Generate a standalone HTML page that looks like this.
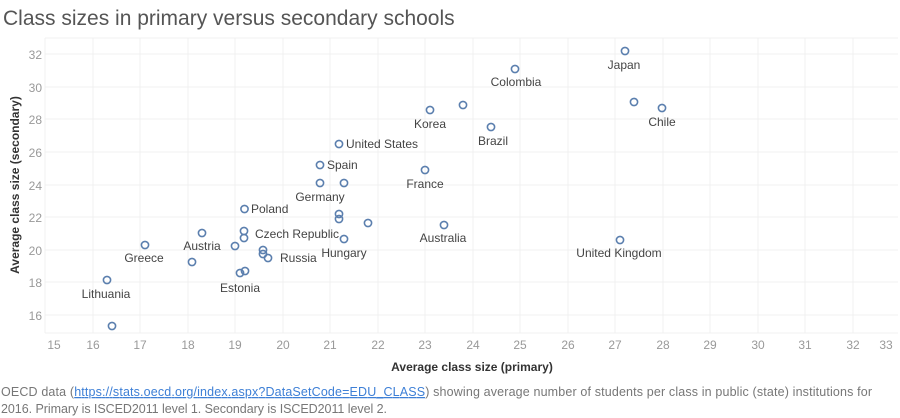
<!DOCTYPE html>
<html><head><meta charset="utf-8"><style>
html,body{margin:0;padding:0;background:#fff;width:900px;height:418px;overflow:hidden}
svg{display:block;font-family:"Liberation Sans",sans-serif}
.t{font-size:12px;fill:#999}
.l{font-size:12px;fill:#444}
.a{font-size:12px;font-weight:bold;fill:#333}
circle{fill:none;stroke:#5b7fae;stroke-width:1.6}
</style></head><body>
<svg width="900" height="418" viewBox="0 0 900 418">
<text x="3" y="25" style="font-size:21px;fill:#555">Class sizes in primary versus secondary schools</text>
<g stroke="#f0f0f0" stroke-width="1">
<line x1="45" y1="38" x2="898" y2="38"/><line x1="45" y1="54" x2="898" y2="54"/><line x1="45" y1="87" x2="898" y2="87"/><line x1="45" y1="119" x2="898" y2="119"/><line x1="45" y1="152" x2="898" y2="152"/><line x1="45" y1="185" x2="898" y2="185"/><line x1="45" y1="217" x2="898" y2="217"/><line x1="45" y1="250" x2="898" y2="250"/><line x1="45" y1="282" x2="898" y2="282"/><line x1="45" y1="315" x2="898" y2="315"/>
<line x1="45" y1="38" x2="45" y2="333"/><line x1="93" y1="38" x2="93" y2="333"/><line x1="140" y1="38" x2="140" y2="333"/><line x1="188" y1="38" x2="188" y2="333"/><line x1="235" y1="38" x2="235" y2="333"/><line x1="283" y1="38" x2="283" y2="333"/><line x1="330" y1="38" x2="330" y2="333"/><line x1="378" y1="38" x2="378" y2="333"/><line x1="425" y1="38" x2="425" y2="333"/><line x1="473" y1="38" x2="473" y2="333"/><line x1="520" y1="38" x2="520" y2="333"/><line x1="568" y1="38" x2="568" y2="333"/><line x1="615" y1="38" x2="615" y2="333"/><line x1="663" y1="38" x2="663" y2="333"/><line x1="710" y1="38" x2="710" y2="333"/><line x1="758" y1="38" x2="758" y2="333"/><line x1="805" y1="38" x2="805" y2="333"/><line x1="853" y1="38" x2="853" y2="333"/>
<line x1="45" y1="333" x2="898" y2="333"/>
</g>
<g class="t" text-anchor="end">
<text x="42" y="59">32</text><text x="42" y="92">30</text><text x="42" y="124">28</text><text x="42" y="157">26</text><text x="42" y="190">24</text><text x="42" y="222">22</text><text x="42" y="255">20</text><text x="42" y="287">18</text><text x="42" y="320">16</text>
</g>
<g class="t" text-anchor="middle">
<text x="54" y="349">15</text><text x="93" y="349">16</text><text x="140" y="349">17</text><text x="188" y="349">18</text><text x="235" y="349">19</text><text x="283" y="349">20</text><text x="330" y="349">21</text><text x="378" y="349">22</text><text x="425" y="349">23</text><text x="473" y="349">24</text><text x="520" y="349">25</text><text x="568" y="349">26</text><text x="615" y="349">27</text><text x="663" y="349">28</text><text x="710" y="349">29</text><text x="758" y="349">30</text><text x="805" y="349">31</text><text x="853" y="349">32</text><text x="886" y="349">33</text>
</g>
<text class="a" x="472" y="371" text-anchor="middle">Average class size (primary)</text>
<text class="a" transform="translate(19,185) rotate(-90)" text-anchor="middle">Average class size (secondary)</text>
<g>
<circle cx="625" cy="51" r="3.6"/><circle cx="515" cy="69" r="3.6"/><circle cx="430" cy="110" r="3.6"/><circle cx="463" cy="105" r="3.6"/><circle cx="491" cy="127" r="3.6"/><circle cx="634" cy="102" r="3.6"/><circle cx="662" cy="108" r="3.6"/><circle cx="339" cy="144" r="3.6"/><circle cx="320" cy="165" r="3.6"/><circle cx="320" cy="183" r="3.6"/><circle cx="344" cy="183" r="3.6"/><circle cx="425" cy="170" r="3.6"/><circle cx="244.5" cy="209" r="3.6"/><circle cx="339" cy="214" r="3.6"/><circle cx="339" cy="219" r="3.6"/><circle cx="368" cy="223" r="3.6"/><circle cx="444" cy="225" r="3.6"/><circle cx="202" cy="233" r="3.6"/><circle cx="244" cy="231" r="3.6"/><circle cx="244" cy="238" r="3.6"/><circle cx="235" cy="246" r="3.6"/><circle cx="344" cy="239" r="3.6"/><circle cx="263" cy="250" r="3.6"/><circle cx="263" cy="254" r="3.6"/><circle cx="268" cy="258" r="3.6"/><circle cx="145" cy="245" r="3.6"/><circle cx="192" cy="262" r="3.6"/><circle cx="240" cy="273" r="3.6"/><circle cx="245" cy="271" r="3.6"/><circle cx="107" cy="280" r="3.6"/><circle cx="620" cy="240" r="3.6"/><circle cx="112" cy="326" r="3.6"/>
</g>
<g class="l" text-anchor="middle">
<text x="624" y="69">Japan</text><text x="516" y="86">Colombia</text><text x="430" y="128">Korea</text><text x="493" y="145">Brazil</text><text x="662" y="126">Chile</text><text x="320" y="201">Germany</text><text x="425" y="188">France</text><text x="443" y="242">Australia</text><text x="202" y="250">Austria</text><text x="344" y="257">Hungary</text><text x="144" y="262">Greece</text><text x="240" y="292">Estonia</text><text x="106" y="298">Lithuania</text><text x="619" y="257">United Kingdom</text>
</g>
<g class="l">
<text x="346" y="148">United States</text><text x="327" y="169">Spain</text><text x="251" y="213">Poland</text><text x="255" y="238">Czech Republic</text><text x="280" y="262">Russia</text>
</g>
<text x="1" y="396" textLength="871" lengthAdjust="spacing" style="font-size:12.5px;fill:#777">OECD data (<tspan fill="#3d7fd6" text-decoration="underline">https://stats.oecd.org/index.aspx?DataSetCode=EDU_CLASS</tspan>) showing average number of students per class in public (state) institutions for</text>
<text x="1" y="413" textLength="386" lengthAdjust="spacing" style="font-size:12.5px;fill:#777">2016. Primary is ISCED2011 level 1. Secondary is ISCED2011 level 2.</text>
</svg>
</body></html>
